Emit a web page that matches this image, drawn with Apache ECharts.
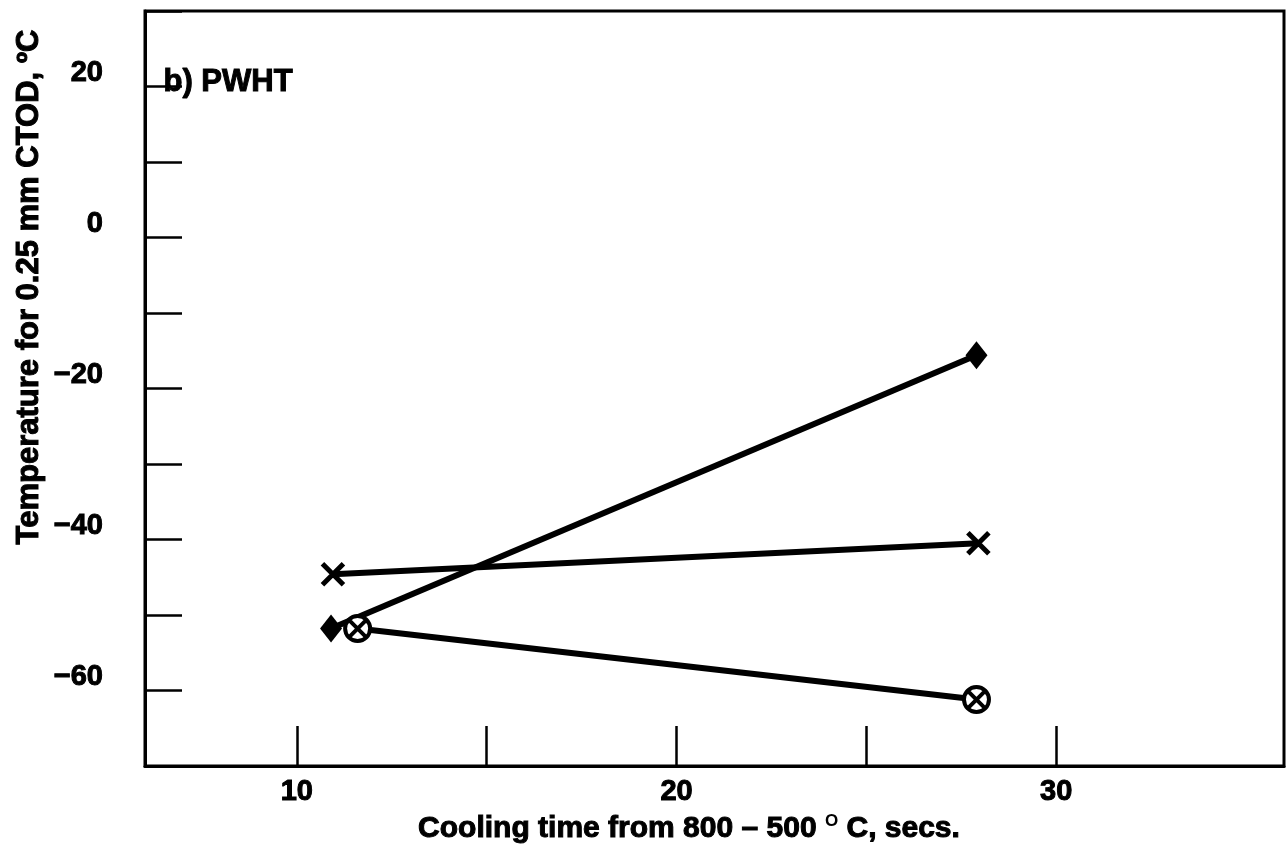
<!DOCTYPE html>
<html>
<head>
<meta charset="utf-8">
<script src="https://cdn.jsdelivr.net/npm/echarts@6/dist/echarts.min.js"></script>
<style>
  html, body { margin: 0; padding: 0; background: #fff; }
  #chart { width: 1288px; height: 853px; }
</style>
</head>
<body>
<div id="chart"></div>
<script>
// Data
const diamondSeries = [[10.9, -51.8], [27.9, -15.6]];
const crossSeries = [[10.95, -44.6], [27.95, -40.5]];
const circleCrossSeries = [[11.6, -51.8], [27.9, -61.2]];

const xTickValues = [10, 15, 20, 25, 30];
const xLabelValues = [10, 20, 30];
const yLabelValues = [20, 0, -20, -40, -60];

const panelLabel = 'b) PWHT';
const xTitleMain = 'Cooling time from 800 \u2013 500 ';
const xTitleSup = 'O';
const xTitleEnd = ' C, secs.';
const yTitle = 'Temperature for 0.25 mm CTOD, \u00BAC';

const FONT = "'Liberation Sans', Arial, Helvetica, sans-serif";

const chart = echarts.init(document.getElementById('chart'), null, { renderer: 'canvas' });

const lineStyle = { color: '#000', width: 6 };
const heavy = { textBorderColor: '#000', textBorderWidth: 1 };

const option = {
  animation: false,
  backgroundColor: '#fff',
  grid: {
    left: 145, right: 4, top: 11, bottom: 87,
    show: true, borderColor: '#000', borderWidth: 3, backgroundColor: 'transparent'
  },
  xAxis: {
    type: 'value', min: 6, max: 36, interval: 1,
    axisLine: { show: true, onZero: false, lineStyle: { color: '#000', width: 3 } },
    axisTick: { show: true, inside: true, length: 40, customValues: xTickValues,
      lineStyle: { color: '#000', width: 2.5 } },
    axisLabel: Object.assign({ show: true, customValues: xLabelValues, margin: 11,
      color: '#000', fontFamily: FONT, fontWeight: 'bold', fontSize: 29 }, heavy),
    splitLine: { show: false }
  },
  yAxis: {
    type: 'value', min: -70, max: 30, interval: 10,
    axisLine: { show: true, onZero: false, lineStyle: { color: '#000', width: 3 } },
    axisTick: { show: true, inside: true, length: 37, lineStyle: { color: '#000', width: 2.5 } },
    axisLabel: Object.assign({
      show: true, margin: 42, color: '#000', fontFamily: FONT, fontWeight: 'bold', fontSize: 29,
      verticalAlign: 'bottom', lineHeight: 28,
      formatter: function (v) {
        return yLabelValues.indexOf(v) >= 0 ? String(v).replace('-', '\u2212') : '';
      }
    }, heavy),
    splitLine: { show: false }
  },
  series: [
    {
      name: 'diamond', type: 'line', data: diamondSeries,
      symbol: 'diamond', symbolSize: [22, 28],
      itemStyle: { color: '#000' }, lineStyle: lineStyle, z: 3
    },
    {
      name: 'cross', type: 'line', data: crossSeries,
      symbol: 'path://M-10,-10L10,10M10,-10L-10,10', symbolSize: [21, 21],
      itemStyle: { color: 'transparent', borderColor: '#000', borderWidth: 5 },
      lineStyle: lineStyle, z: 3
    },
    {
      name: 'circlecross', type: 'line', data: circleCrossSeries,
      symbol: 'path://M0,-10A10,10,0,1,1,0,10A10,10,0,1,1,0,-10Z M-7,-7L7,7 M7,-7L-7,7',
      symbolSize: [25, 25],
      itemStyle: { color: '#fff', borderColor: '#000', borderWidth: 4 },
      lineStyle: lineStyle, z: 4
    }
  ],
  graphic: [
    {
      type: 'text', left: 163, top: 66,
      style: { text: panelLabel, fill: '#000', font: 'bold 31px ' + FONT, stroke: '#000', lineWidth: 1 }
    },
    {
      type: 'text', x: 29, y: 287, rotation: Math.PI / 2,
      style: { text: yTitle, fill: '#000', font: 'bold 31px ' + FONT, stroke: '#000', lineWidth: 1,
        align: 'center', verticalAlign: 'middle' }
    },
    {
      type: 'text', x: 689, y: 829,
      style: {
        text: '{a|' + xTitleMain + '}{s|' + xTitleSup + '}{a|' + xTitleEnd + '}',
        align: 'center', verticalAlign: 'middle',
        rich: {
          a: { fill: '#000', fontFamily: FONT, fontWeight: 'bold', fontSize: 30, stroke: '#000', lineWidth: 1 },
          s: { fill: '#000', fontFamily: FONT, fontWeight: 'bold', fontSize: 17, padding: [0, 0, 16, 0] }
        }
      }
    }
  ]
};

chart.setOption(option);
</script>
</body>
</html>
